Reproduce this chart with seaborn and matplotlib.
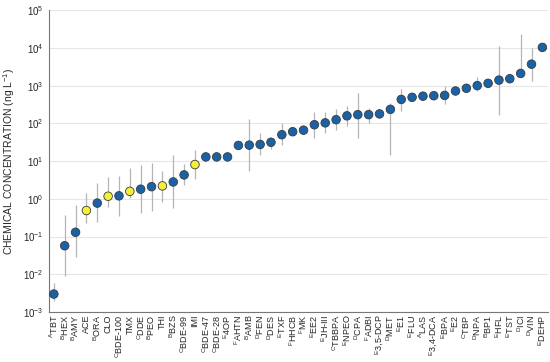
import numpy as np
import pandas as pd
import seaborn as sns
import matplotlib.pyplot as plt

chemicals = ["TBT", "HEX", "AMY", "ACE", "ORA", "CLO", "BDE-100", "TMX", "DDE", "PEO",
             "THI", "BZS", "BDE-99", "IMI", "BDE-47", "BDE-28", "4OP", "AHTN", "AMB", "FEN",
             "DES", "TXF", "HHCB", "MK", "EE2", "JH-III", "TBBPA", "NPEO", "CPA", "ADBI",
             "3,5-DCP", "MET", "E1", "FLU", "LAS", "3,4-DCA", "BPA", "E2", "TBP", "NPA",
             "BP1", "HFL", "TST", "ICI", "VIN", "DEHP"]
groups = ["A", "B", "B", "", "B", "", "C", "", "C", "B",
          "", "B", "C", "", "C", "C", "E", "F", "B", "D",
          "D", "E", "F", "F", "E", "E", "C", "E", "D", "F",
          "E", "D", "E", "E", "A", "E", "E", "E", "C", "D",
          "B", "E", "E", "D", "D", "E"]
conc = [0.003, 0.057, 0.13, 0.49, 0.77, 1.17, 1.2, 1.58, 1.8, 2.1,
        2.2, 2.8, 4.3, 8.1, 12.9, 12.9, 12.9, 26, 26.5, 27.6,
        31.5, 50, 60, 66, 92, 103, 125, 158, 170, 170,
        178, 235, 430, 490, 525, 540, 550, 720, 850, 1000,
        1150, 1400, 1520, 2100, 3700, 10300]
lower = [0.002, 0.009, 0.029, 0.23, 0.24, 0.6, 0.35, 1.05, 0.42, 0.48,
         0.83, 0.56, 2.3, 3.3, np.nan, np.nan, np.nan, np.nan, 5.5, 14.5,
         21, 26, np.nan, np.nan, 40, 56, 66, 85, 40, 103,
         np.nan, 14.5, 213, np.nan, np.nan, np.nan, 325, np.nan, np.nan, 720,
         np.nan, 165, np.nan, 1700, 1350, np.nan]
upper = [0.006, 0.37, 0.67, 1.4, 2.6, 3.8, 4.0, 6.5, 7.8, 8.7,
         5.5, 14.7, 8.3, 20, np.nan, np.nan, np.nan, np.nan, 128, 55,
         44, 100, np.nan, np.nan, 195, 200, 235, 290, 620, 250,
         np.nan, 340, 790, np.nan, np.nan, np.nan, 970, np.nan, np.nan, 1650,
         np.nan, 11300, np.nan, 24000, 9800, np.nan]
neonics = ["ACE", "CLO", "TMX", "THI", "IMI"]

df = pd.DataFrame({"chem": chemicals, "conc": conc, "lo": lower, "hi": upper})
df["pos"] = np.arange(len(df))
df["kind"] = np.where(df["chem"].isin(neonics), "neo", "other")

sns.set_style("white")
plt.rcParams["font.family"] = ["Liberation Sans", "DejaVu Sans"]
plt.rcParams["mathtext.fontset"] = "custom"
plt.rcParams["mathtext.rm"] = "Liberation Sans"
plt.rcParams["mathtext.it"] = "Liberation Sans"
plt.rcParams["mathtext.default"] = "regular"

fig = plt.figure(figsize=(5.5, 3.62), dpi=100)
ax = fig.add_axes([0.089, 0.138, 0.907, 0.834])

# error bars first so markers sit on top
err = df.dropna(subset=["lo"])
ax.vlines(err["pos"], err["lo"], err["hi"], color="#b5b5b5", lw=0.9, zorder=1)

sns.scatterplot(data=df, x="pos", y="conc", hue="kind",
                palette={"other": "#1a62a8", "neo": "#f4f03a"},
                s=38, edgecolor="#3a3a3a", linewidth=0.6, legend=False, ax=ax, zorder=3)

ax.set_yscale("log")
ax.set_ylim(1e-3, 1e5)
ax.set_yticks([10.0 ** k for k in range(-3, 6)])
ax.set_yticklabels([r"10$^{%d}$" % k for k in range(-3, 6)], fontsize=7)
ax.minorticks_off()
ax.yaxis.grid(True, color="#e6e6e6", lw=0.8)
ax.set_axisbelow(True)

ax.set_xlim(-0.45, 45.5)
ax.set_xticks(df["pos"])
ax.set_xticklabels([(r"$^{%s}$" % g if g else "") + c for g, c in zip(groups, chemicals)],
                   rotation=90, fontsize=6.5)
ax.tick_params(axis="both", length=2.5, width=0.6, color="#555555", pad=1.5)
ax.tick_params(axis="x", length=0, pad=2)

ax.set_xlabel("")
ax.set_ylabel(r"CHEMICAL CONCENTRATION (ng L$^{-1}$)", fontsize=7.5)
for s in ["top", "right"]:
    ax.spines[s].set_visible(False)
for s in ["left", "bottom"]:
    ax.spines[s].set_color("#777777")
    ax.spines[s].set_linewidth(0.8)

fig.savefig("out.png", dpi=100)
